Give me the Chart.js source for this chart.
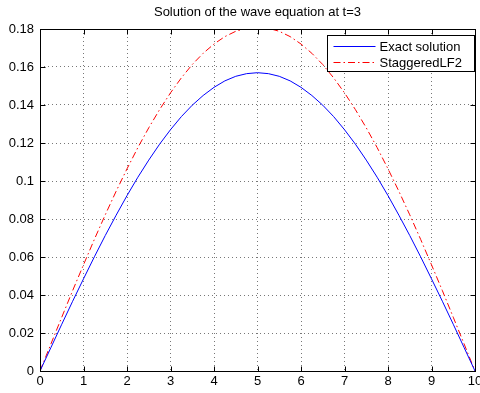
<!DOCTYPE html>
<html><head><meta charset="utf-8">
<script src="https://cdn.jsdelivr.net/npm/chart.js@4"></script>
<style>html,body{margin:0;padding:0;background:#fff}#wrap{width:480px;height:393px}</style>
</head><body><div id="wrap"><canvas id="c" width="480" height="393"></canvas></div>
<script>
const titleText = 'Solution of the wave equation at t=3';
const seriesNames = ['Exact solution', 'StaggeredLF2'];
const xValues = [0,0.25,0.5,0.75,1,1.25,1.5,1.75,2,2.25,2.5,2.75,3,3.25,3.5,3.75,4,4.25,4.5,4.75,5,
  5.25,5.5,5.75,6,6.25,6.5,6.75,7,7.25,7.5,7.75,8,8.25,8.5,8.75,9,9.25,9.5,9.75,10];
const exactSolution = [0,0.0123,0.0246,0.0367,0.0485,0.0601,0.0713,0.0820,0.0923,0.1020,0.1110,0.1194,0.1270,0.1339,0.1399,0.1450,0.1493,0.1527,0.1551,0.1565,0.1570,
  0.1565,0.1551,0.1527,0.1493,0.1450,0.1399,0.1339,0.1270,0.1194,0.1110,0.1020,0.0923,0.0820,0.0713,0.0601,0.0485,0.0367,0.0246,0.0123,0];
const staggeredLF2 = [0,0.0142,0.0283,0.0423,0.0559,0.0693,0.0822,0.0946,0.1064,0.1176,0.1280,0.1376,0.1464,0.1543,0.1613,0.1672,0.1721,0.1760,0.1788,0.1804,0.1810,
  0.1804,0.1788,0.1760,0.1721,0.1672,0.1613,0.1543,0.1464,0.1376,0.1280,0.1176,0.1064,0.0946,0.0822,0.0693,0.0559,0.0423,0.0283,0.0142,0];
const xTickLabels = ['0','1','2','3','4','5','6','7','8','9','10'];
const yTickLabels = ['0','0.02','0.04','0.06','0.08','0.1','0.12','0.14','0.16','0.18'];

const FONT = '"Liberation Sans", Arial, Helvetica, sans-serif';
const seriesColors = ['#0000ff', '#ff0000'];
const seriesDash = [[], [7, 3, 1.5, 3]];

const framePlugin = {
  id: 'frame',
  afterDraw(chart) {
    const ctx = chart.ctx, a = chart.chartArea, x = chart.scales.x, y = chart.scales.y;
    const L = Math.round(a.left) + 0.5, R = Math.round(a.right) + 0.5;
    const T = Math.round(a.top) + 0.5, B = Math.round(a.bottom) + 0.5;
    ctx.save();
    ctx.strokeStyle = '#000';
    ctx.lineWidth = 1;
    ctx.setLineDash([]);
    ctx.beginPath();
    x.ticks.forEach(t => {
      const px = Math.round(x.getPixelForValue(t.value)) + 0.5;
      ctx.moveTo(px, B); ctx.lineTo(px, B - 5);
      ctx.moveTo(px, T); ctx.lineTo(px, T + 5);
    });
    y.ticks.forEach(t => {
      const py = Math.round(y.getPixelForValue(t.value)) + 0.5;
      ctx.moveTo(L, py); ctx.lineTo(L + 5, py);
      ctx.moveTo(R, py); ctx.lineTo(R - 5, py);
    });
    ctx.stroke();
    ctx.strokeRect(L, T, R - L, B - T);

    // legend box inside the plot, top-right
    const bx = R - 148, by = T + 6, bw = 147, bh = 36;
    ctx.fillStyle = '#fff';
    ctx.fillRect(bx, by, bw, bh);
    ctx.strokeRect(bx, by, bw, bh);
    ctx.font = '13px ' + FONT;
    ctx.textBaseline = 'middle';
    ctx.textAlign = 'left';
    seriesNames.forEach((name, i) => {
      const ly = by + 11 + i * 16;
      ctx.strokeStyle = seriesColors[i];
      ctx.setLineDash(seriesDash[i]);
      ctx.beginPath();
      ctx.moveTo(bx + 6, ly); ctx.lineTo(bx + 48, ly);
      ctx.stroke();
      ctx.setLineDash([]);
      ctx.fillStyle = '#000';
      ctx.fillText(name, bx + 52, ly + 0.5);
    });
    ctx.restore();
  }
};

const mk = (ys) => xValues.map((v, i) => ({x: v, y: ys[i]}));

new Chart(document.getElementById('c'), {
  type: 'line',
  data: {
    datasets: [
      {label: seriesNames[0], data: mk(exactSolution), borderColor: seriesColors[0], borderWidth: 1, pointRadius: 0, borderDash: seriesDash[0], tension: 0},
      {label: seriesNames[1], data: mk(staggeredLF2), borderColor: seriesColors[1], borderWidth: 1, pointRadius: 0, borderDash: seriesDash[1], tension: 0}
    ]
  },
  options: {
    responsive: false,
    devicePixelRatio: 1,
    animation: false,
    layout: {padding: 0},
    plugins: {
      legend: {display: false},
      tooltip: {enabled: false},
      title: {
        display: true, text: titleText, color: '#000', fullSize: false,
        font: {family: FONT, size: 13, weight: 'normal'},
        padding: {top: 5, bottom: 8.4}
      }
    },
    scales: {
      x: {
        type: 'linear', min: 0, max: 10,
        afterFit(s) { s.height = 22; s.paddingRight = 5; s.paddingLeft = 0; },
        ticks: {stepSize: 1, color: '#000', padding: 3, maxRotation: 0, autoSkip: false,
          font: {family: FONT, size: 13},
          callback: (v, i) => xTickLabels[i]},
        grid: {color: '#777', lineWidth: 1, drawTicks: false},
        border: {display: false, dash: [1, 3]}
      },
      y: {
        type: 'linear', min: 0, max: 0.18,
        afterFit(s) { s.width = 40; },
        ticks: {stepSize: 0.02, color: '#000', padding: 6, autoSkip: false,
          font: {family: FONT, size: 13},
          callback: (v, i) => yTickLabels[i]},
        grid: {color: '#777', lineWidth: 1, drawTicks: false},
        border: {display: false, dash: [1, 3]}
      }
    }
  },
  plugins: [framePlugin]
});
</script>
</body></html>
